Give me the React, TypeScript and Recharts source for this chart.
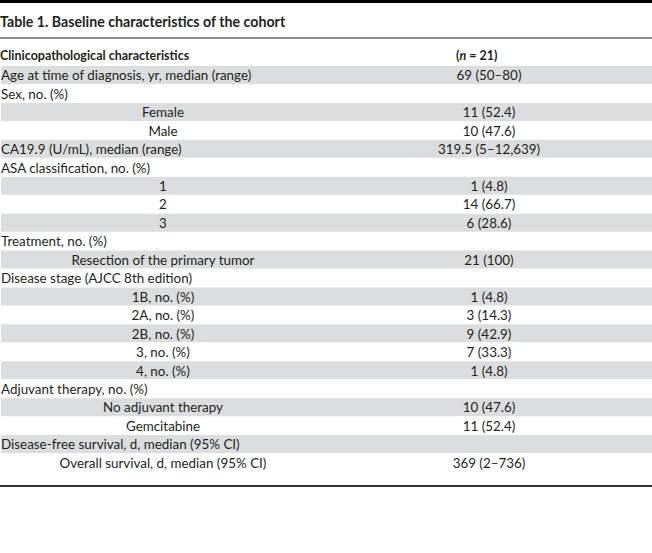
import React from 'react';
import { BarChart, Bar, XAxis, YAxis } from 'recharts';

// row texts of the table, top to bottom
const rowLabels = [
  'Age at time of diagnosis, yr, median (range)',
  'Sex, no. (%)',
  'Female',
  'Male',
  'CA19.9 (U/mL), median (range)',
  'ASA classification, no. (%)',
  '1',
  '2',
  '3',
  'Treatment, no. (%)',
  'Resection of the primary tumor',
  'Disease stage (AJCC 8th edition)',
  '1B, no. (%)',
  '2A, no. (%)',
  '2B, no. (%)',
  '3, no. (%)',
  '4, no. (%)',
  'Adjuvant therapy, no. (%)',
  'No adjuvant therapy',
  'Gemcitabine',
  'Disease-free survival, d, median (95% CI)',
  'Overall survival, d, median (95% CI)',
];

const rowValues = [
  '69 (50–80)', '', '11 (52.4)', '10 (47.6)', '319.5 (5–12,639)', '', '1 (4.8)', '14 (66.7)',
  '6 (28.6)', '', '21 (100)', '', '1 (4.8)', '3 (14.3)', '9 (42.9)', '7 (33.3)', '1 (4.8)', '',
  '10 (47.6)', '11 (52.4)', '', '369 (2–736)',
];

// true = sub-row, text centred in the first column
const rowCentered = [
  false, false, true, true, false, false, true, true, true, false, true, false,
  true, true, true, true, true, false, true, true, false, true,
];

// 1 = grey band behind the row
const rowShade = [1, 0, 1, 0, 1, 0, 1, 0, 1, 0, 1, 0, 1, 0, 1, 0, 1, 0, 1, 0, 1, 0];

const FONT = 'Lato, sans-serif';
const TEXT = '#231f20';

const data = rowLabels.map((label, i) => ({
  key: `r${i}`,
  label,
  value: rowValues[i],
  centered: rowCentered[i],
  shade: rowShade[i],
}));

const RowTick = (props: any) => {
  const { y, index } = props;
  const row = data[index];
  if (!row) return null;
  return (
    <g>
      <text
        x={row.centered ? 163 : 1}
        y={y}
        dy={5}
        textAnchor={row.centered ? 'middle' : 'start'}
        fontFamily={FONT}
        fontSize={13.4}
        fill={TEXT}
      >
        {row.label}
      </text>
      <text x={489} y={y} dy={5} textAnchor="middle" fontFamily={FONT} fontSize={13.4} fill={TEXT}>
        {row.value}
      </text>
    </g>
  );
};

export default function App() {
  return (
    <div style={{ position: 'absolute', left: 0, top: 0, width: 652, height: 553, background: '#fff' }}>
      <div style={{ position: 'absolute', left: 0, top: 0, width: 652, height: 3, background: '#000' }} />
      <div
        style={{
          position: 'absolute', left: 0, top: 13, fontFamily: FONT, fontWeight: 700,
          fontSize: 14.2, color: TEXT, lineHeight: '18px',
        }}
      >
        Table 1. Baseline characteristics of the cohort
      </div>
      <div style={{ position: 'absolute', left: 0, top: 37, width: 652, height: 2, background: '#8c8c8c' }} />
      <div
        style={{
          position: 'absolute', left: 0, top: 47, fontFamily: FONT, fontWeight: 700,
          fontSize: 12.5, color: TEXT, lineHeight: '18px',
        }}
      >
        Clinicopathological characteristics
      </div>
      <div
        style={{
          position: 'absolute', left: 456, top: 47, fontFamily: FONT, fontWeight: 700,
          fontSize: 12.5, color: TEXT, lineHeight: '18px',
        }}
      >
        (<i>n</i> = 21)
      </div>
      <div style={{ position: 'absolute', left: 0, top: 66 }}>
        <BarChart
          width={652}
          height={406}
          layout="vertical"
          data={data}
          margin={{ top: 0, right: 0, bottom: 0, left: 0 }}
          barCategoryGap={0}
        >
          <XAxis type="number" domain={[0, 1]} hide />
          <YAxis
            type="category"
            dataKey="key"
            width={1}
            axisLine={false}
            tickLine={false}
            interval={0}
            tick={<RowTick />}
          />
          <Bar dataKey="shade" fill="#dcdddf" isAnimationActive={false} />
        </BarChart>
      </div>
      <div style={{ position: 'absolute', left: 0, top: 485, width: 652, height: 2, background: '#333' }} />
    </div>
  );
}
